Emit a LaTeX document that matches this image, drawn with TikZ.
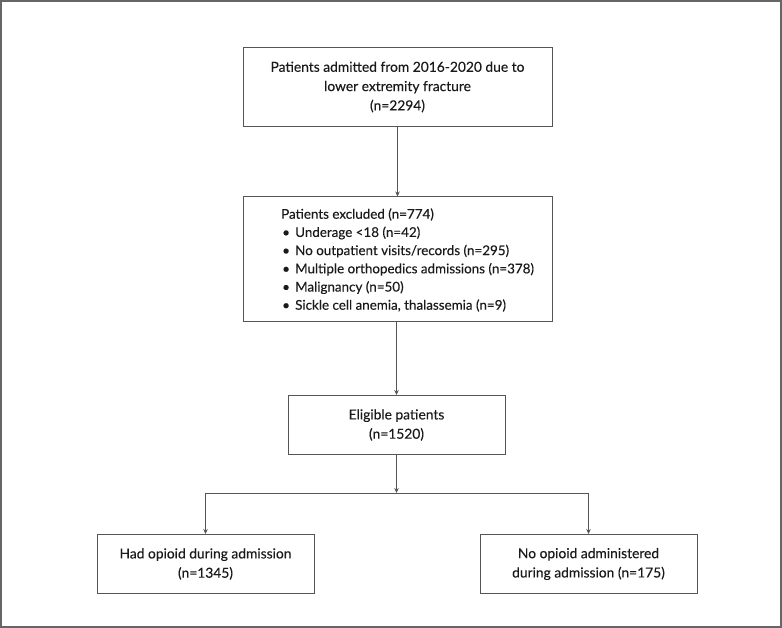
\documentclass[tikz,border=0pt]{standalone}
\usepackage{fontspec}
\setmainfont{Lato}[FakeBold=0.25]
\newfontfamily\medfont{Lato}[FakeBold=0.25]
\usetikzlibrary{arrows.meta}
\definecolor{linecol}{HTML}{555555}
\definecolor{framecol}{HTML}{666666}
\definecolor{textcol}{HTML}{1A1A1A}
\begin{document}
\begin{tikzpicture}[x=1pt,y=-1pt,
  box/.style={draw=linecol,line width=1pt,rectangle,inner sep=0pt,text=textcol,align=center,
    font=\medfont\fontsize{13.8}{19.3}\selectfont},
  conn/.style={draw=linecol,line width=0.9pt},
  arr/.style={conn,-{Stealth[length=5pt,width=4.5pt]}}]
\useasboundingbox (0,0) rectangle (782,628);
\draw[framecol,line width=1.5pt] (1,1) rectangle (781,627);
\node[box,minimum width=309pt,minimum height=79pt] (b1) at (397.5,87)
  {Patients admitted from 2016-2020 due to\\lower extremity fracture\\(n=2294)};
\node[box,minimum width=309pt,minimum height=125pt] (b2) at (397.5,259.5) {};
\node[anchor=west,inner sep=0pt,align=left,text=textcol,font=\medfont\fontsize{13.4}{18.2}\selectfont] (ex) at (281,260)
  {Patients excluded (n=774)\\
   \hspace*{1pt}\makebox[13pt][l]{•}Underage <18 (n=42)\\
   \hspace*{1pt}\makebox[13pt][l]{•}No outpatient visits/records (n=295)\\
   \hspace*{1pt}\makebox[13pt][l]{•}Multiple orthopedics admissions (n=378)\\
   \hspace*{1pt}\makebox[13pt][l]{•}Malignancy (n=50)\\
   \hspace*{1pt}\makebox[13pt][l]{•}Sickle cell anemia, thalassemia (n=9)};
\node[box,minimum width=217pt,minimum height=59pt] (b3) at (396.5,425)
  {Eligible patients\\(n=1520)};
\node[box,minimum width=217pt,minimum height=59pt] (b4) at (205.5,564)
  {Had opioid during admission\\(n=1345)};
\node[box,minimum width=217pt,minimum height=59pt] (b5) at (588.5,564)
  {No opioid administered\\during admission (n=175)};
\coordinate (j) at (396.5,493);
\coordinate (jl) at (205.5,493);
\coordinate (jr) at (588.5,493);
\draw[arr] (b1.south) -- (b1.south |- b2.north);
\draw[arr] (b2.south -| b3.north) -- (b3.north);
\draw[arr] (b3.south) -- (j);
\draw[conn] (jl) -- (jr);
\draw[arr] (jl) -- (b4.north);
\draw[arr] (jr) -- (b5.north);
\end{tikzpicture}
\end{document}
